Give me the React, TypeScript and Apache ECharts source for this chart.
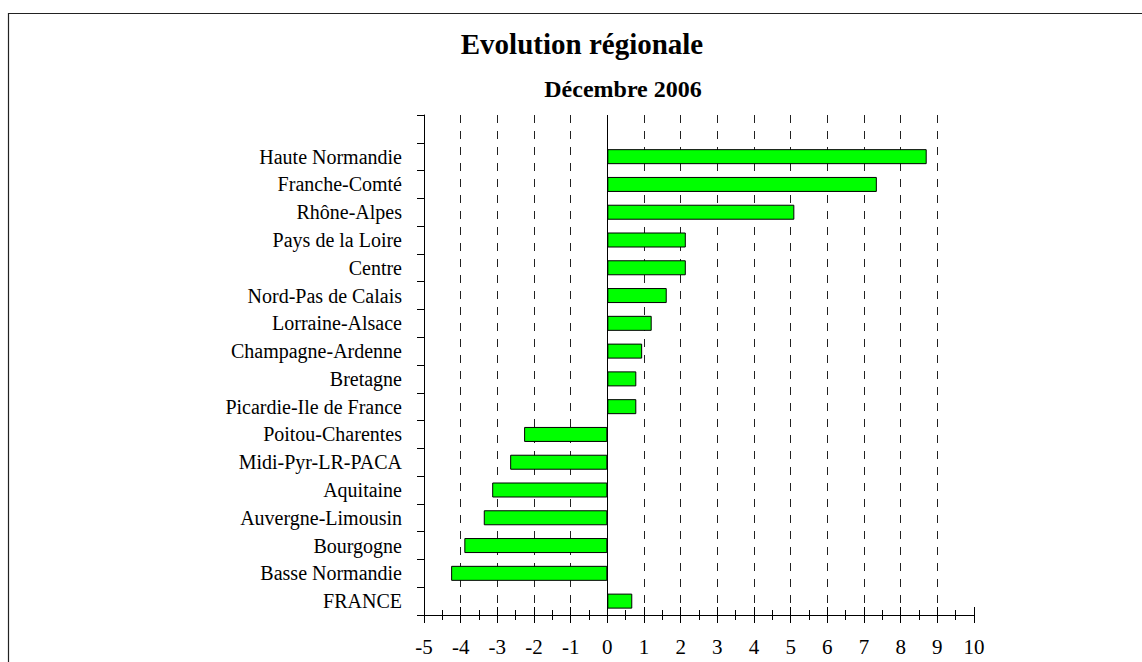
import React, { useEffect, useRef } from "react";
import * as echarts from "echarts";

const categories = [
  "",
  "Haute Normandie",
  "Franche-Comté",
  "Rhône-Alpes",
  "Pays de la Loire",
  "Centre",
  "Nord-Pas de Calais",
  "Lorraine-Alsace",
  "Champagne-Ardenne",
  "Bretagne",
  "Picardie-Ile de France",
  "Poitou-Charentes",
  "Midi-Pyr-LR-PACA",
  "Aquitaine",
  "Auvergne-Limousin",
  "Bourgogne",
  "Basse Normandie",
  "FRANCE",
];

const values: (number | null)[] = [
  null, 8.71, 7.35, 5.1, 2.14, 2.14, 1.62, 1.21, 0.95, 0.79, 0.79,
  -2.27, -2.65, -3.14, -3.37, -3.9, -4.26, 0.68,
];

const xMin = -5;
const xMax = 10;
const xStep = 1;

const titleText = "Evolution régionale";
const subtitleText = "Décembre 2006";

const FONT = "'Liberation Serif', 'Times New Roman', serif";

export default function App() {
  const ref = useRef<HTMLDivElement>(null);
  useEffect(() => {
    if (!ref.current) return;
    const chart = echarts.init(ref.current, null, { renderer: "svg" });
    const baseX = {
      type: "value",
      min: xMin,
      max: xMax,
      interval: xStep,
      position: "bottom",
      axisLine: { show: true, onZero: false, lineStyle: { color: "#000", width: 1 } },
    };
    chart.setOption({
      animation: false,
      backgroundColor: "#fff",
      grid: { left: 424, right: 168, top: 115, bottom: 47, containLabel: false },
      graphic: [
        {
          type: "rect",
          shape: { x: 8.5, y: 13.5, width: 1200, height: 700 },
          style: { fill: "none", stroke: "#222", lineWidth: 1.2 },
          silent: true,
        },
        {
          type: "text",
          x: 582,
          y: 44,
          style: {
            text: titleText,
            font: `bold 29px ${FONT}`,
            fill: "#000",
            textAlign: "center",
            textVerticalAlign: "middle",
          },
        },
        {
          type: "text",
          x: 623,
          y: 89,
          style: {
            text: subtitleText,
            font: `bold 24px ${FONT}`,
            fill: "#000",
            textAlign: "center",
            textVerticalAlign: "middle",
          },
        },
      ],
      xAxis: [
        {
          ...baseX,
          axisTick: { show: true, inside: false, length: 8, lineStyle: { color: "#000" } },
          minorTick: { show: true, splitNumber: 2, length: 5, lineStyle: { color: "#000" } },
          axisLabel: {
            show: true,
            margin: 21,
            fontFamily: FONT,
            fontSize: 21,
            color: "#000",
          },
          splitLine: {
            show: true,
            showMinLine: false,
            showMaxLine: false,
            lineStyle: { color: "#222", width: 1, type: [8, 8] },
          },
        },
        {
          ...baseX,
          axisTick: { show: true, inside: true, length: 8, lineStyle: { color: "#000" } },
          minorTick: { show: true, splitNumber: 2, length: 5, lineStyle: { color: "#000" } },
          axisLabel: { show: false },
          splitLine: { show: false },
        },
      ],
      yAxis: {
        type: "category",
        data: categories,
        inverse: true,
        axisLine: { show: true, onZero: false, lineStyle: { color: "#000", width: 1 } },
        axisTick: { show: true, length: 7, lineStyle: { color: "#000" } },
        axisLabel: {
          margin: 22,
          fontFamily: FONT,
          fontSize: 20,
          color: "#000",
        },
        splitLine: { show: false },
      },
      series: [
        {
          type: "bar",
          xAxisIndex: 0,
          data: values,
          barWidth: 15,
          itemStyle: { color: "#00ff00", borderColor: "#000", borderWidth: 1 },
          markLine: {
            silent: true,
            symbol: "none",
            label: { show: false },
            lineStyle: { color: "#000", width: 1, type: "solid" },
            data: [{ xAxis: 0 }],
          },
        },
      ],
    });
    return () => chart.dispose();
  }, []);
  return (
    <div
      ref={ref}
      style={{ position: "fixed", left: 0, top: 0, width: 1142, height: 662 }}
    />
  );
}
